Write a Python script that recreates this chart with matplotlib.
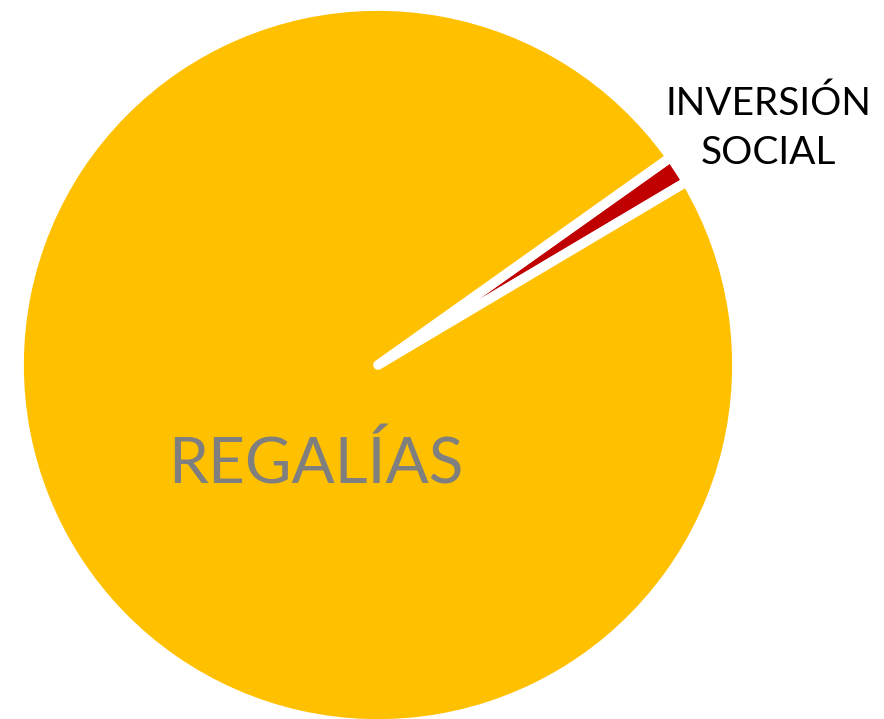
import matplotlib.pyplot as plt

labels = ['INVERSIÓN SOCIAL', 'REGALÍAS']
values = [1.3, 98.7]
colors = ['#C00000', '#FFC000']

plt.rcParams['font.family'] = ['Lato', 'DejaVu Sans']

fig = plt.figure(figsize=(8.84, 7.19), dpi=100)
ax = fig.add_axes([0, 0, 1, 1])

wedges, _ = ax.pie(values, colors=colors, startangle=30.7, counterclock=True,
                   center=(378, 354), radius=359, frame=True,
                   wedgeprops=dict(edgecolor='white', linewidth=7, joinstyle='round'))
ax.set_xlim(0, 884)
ax.set_ylim(0, 719)
ax.axis('off')

ax.text(768, 591, labels[0].replace(' ', '\n'), ha='center', va='center',
        fontsize=28, color='black', linespacing=1.45)
ax.text(316, 254, labels[1], ha='center', va='center',
        fontsize=46, color='#7F7F7F')

fig.savefig('out.png', dpi=100)
